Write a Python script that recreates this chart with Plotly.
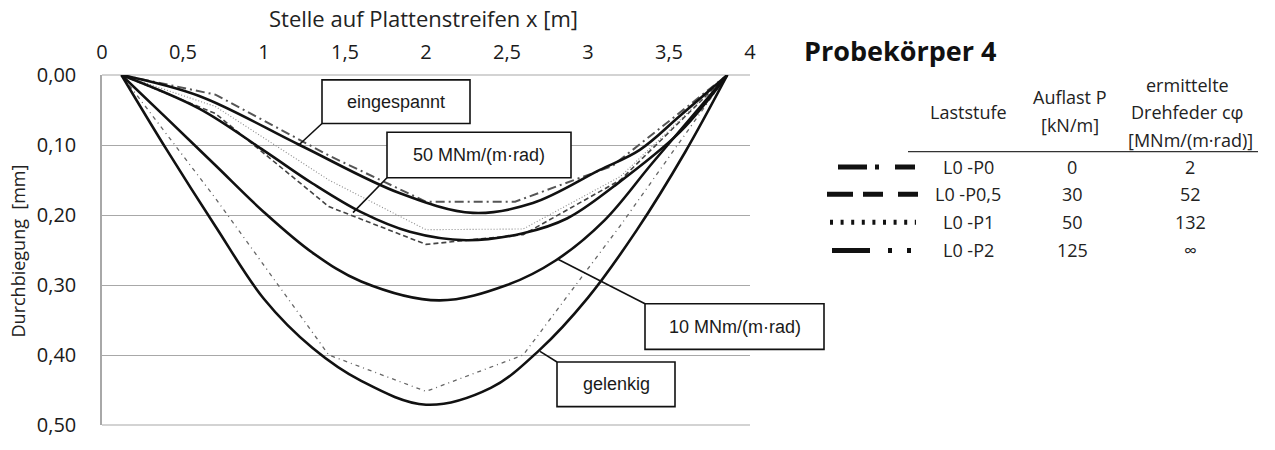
import plotly.graph_objects as go

# --- Theoretical deflection curves (solid) ---
x_gelenkig = [0.12, 0.4, 0.7, 1.0, 1.3, 1.6, 2.0, 2.4, 2.7, 3.0, 3.3, 3.6, 3.86]
y_gelenkig = [0.0, 0.107, 0.216, 0.32, 0.39, 0.437, 0.471, 0.447, 0.393, 0.318, 0.222, 0.11, 0.0]

x_10 = [0.12, 0.4, 0.7, 1.0, 1.3, 1.6, 2.08, 2.5, 2.8, 3.1, 3.4, 3.86]
y_10 = [0.0, 0.062, 0.129, 0.196, 0.254, 0.295, 0.322, 0.30, 0.265, 0.208, 0.125, 0.0]

x_50 = [0.12, 0.6, 1.0, 1.3, 1.6, 1.9, 2.25, 2.6, 2.87, 3.16, 3.57, 3.86]
y_50 = [0.0, 0.048, 0.108, 0.155, 0.196, 0.224, 0.236, 0.226, 0.205, 0.159, 0.081, 0.0]

x_eingespannt = [0.12, 0.6, 1.22, 1.84, 2.29, 2.66, 3.07, 3.32, 3.57, 3.86]
y_eingespannt = [0.0, 0.03, 0.10, 0.169, 0.197, 0.183, 0.136, 0.107, 0.058, 0.0]

# --- Measured deflections per load step ---
x_p0 = [0.12, 0.7, 1.4, 2.0, 2.55, 3.15, 3.86]
y_p0 = [0.0, 0.028, 0.115, 0.181, 0.181, 0.13, 0.0]

x_p05 = [0.12, 0.7, 1.4, 2.0, 2.6, 3.2, 3.86]
y_p05 = [0.0, 0.055, 0.188, 0.242, 0.228, 0.15, 0.0]

x_p1 = [0.12, 0.7, 1.4, 2.0, 2.6, 3.2, 3.86]
y_p1 = [0.0, 0.045, 0.15, 0.221, 0.22, 0.145, 0.0]

x_p2 = [0.12, 0.7, 1.4, 2.0, 2.6, 3.2, 3.86]
y_p2 = [0.0, 0.176, 0.40, 0.452, 0.40, 0.215, 0.0]

# --- Table content ---
laststufen = ["L0 -P0", "L0 -P0,5", "L0 -P1", "L0 -P2"]
auflast = ["0", "30", "50", "125"]
drehfeder = ["2", "52", "132", "\u221e"]

W, H = 1275, 450
L, R, T, B = 102, 750, 75, 436  # plot area in pixels

def px(xp):
    return (xp - L) / (R - L)

def py(yp):
    return (B - yp) / (B - T)

fig = go.Figure()

measured = [
    (x_p0, y_p0, dict(color="#555555", width=2, dash="9px,4px,2px,4px")),
    (x_p05, y_p05, dict(color="#444444", width=1.6, dash="5px,3px")),
    (x_p1, y_p1, dict(color="#8a8a8a", width=1.1, dash="1px,2px")),
    (x_p2, y_p2, dict(color="#666666", width=1.3, dash="4px,4px,1px,4px")),
]
for xs, ys, ln in measured:
    fig.add_trace(go.Scatter(x=xs, y=ys, mode="lines", line=ln,
                             showlegend=False, hoverinfo="skip"))

for xs, ys in [(x_gelenkig, y_gelenkig), (x_10, y_10), (x_50, y_50),
               (x_eingespannt, y_eingespannt)]:
    fig.add_trace(go.Scatter(x=xs, y=ys, mode="lines",
                             line=dict(color="#111111", width=2.6, shape="spline", smoothing=1.0),
                             showlegend=False, hoverinfo="skip"))

shapes = []
annotations = []

# horizontal frame lines at 0,00 and 0,50
for yy in (T, B):
    shapes.append(dict(type="line", xref="paper", yref="paper",
                       x0=0, y0=py(yy), x1=1, y1=py(yy),
                       line=dict(color="#a8a8a8", width=1.2), layer="below"))

# label boxes with leader lines
boxes = [
    ("eingespannt", (322, 80, 470, 125), ((322, 125), (298, 148))),
    ("50 MNm/(m\u00b7rad)", (387, 134, 571, 181), ((387, 181), (353, 217))),
    ("10 MNm/(m\u00b7rad)", (645, 311, 824, 358), ((645, 311), (558, 265))),
    ("gelenkig", (557, 371, 675, 417), ((557, 371), (540, 360))),
]
for text, (x0, y0, x1, y1), ((lx0, ly0), (lx1, ly1)) in boxes:
    shapes.append(dict(type="line", xref="paper", yref="paper",
                       x0=px(lx0), y0=py(ly0), x1=px(lx1), y1=py(ly1),
                       line=dict(color="#111111", width=1.6), layer="above"))
    shapes.append(dict(type="rect", xref="paper", yref="paper",
                       x0=px(x0), y0=py(y0), x1=px(x1), y1=py(y1),
                       line=dict(color="#111111", width=1.6), fillcolor="white", layer="above"))
    annotations.append(dict(text=text, xref="paper", yref="paper",
                            x=px((x0 + x1) / 2), y=py((y0 + y1) / 2),
                            showarrow=False, xanchor="center", yanchor="middle",
                            font=dict(family="Liberation Sans, Arial", size=18, color="#1a1a1a")))

# axis titles
annotations.append(dict(text="Stelle auf Plattenstreifen x [m]", xref="paper", yref="paper",
                        x=px(423), y=py(16), showarrow=False, xanchor="center", yanchor="middle",
                        font=dict(family="Open Sans", size=22, color="#222222")))
annotations.append(dict(text="Durchbiegung  [mm]", xref="paper", yref="paper",
                        x=px(18), y=py(257), showarrow=False, xanchor="center", yanchor="middle",
                        textangle=-90,
                        font=dict(family="Open Sans", size=18, color="#222222")))

# table title
annotations.append(dict(text="<b>Probekörper 4</b>", xref="paper", yref="paper",
                        x=px(802), y=py(50), showarrow=False, xanchor="left", yanchor="middle",
                        font=dict(family="Open Sans", size=27, color="#111111")))

tfont = dict(family="Open Sans", size=18, color="#222222")
headers = [
    ("Laststufe", 968, 113),
    ("Auflast P", 1070, 98),
    ("[kN/m]", 1070, 127),
    ("ermittelte", 1187, 85),
    ("Drehfeder c\u03c6", 1187, 113),
    ("[MNm/(m\u00b7rad)]", 1190, 142),
]
for text, xx, yy in headers:
    annotations.append(dict(text=text, xref="paper", yref="paper", x=px(xx), y=py(yy),
                            showarrow=False, xanchor="center", yanchor="middle", font=tfont))

shapes.append(dict(type="line", xref="paper", yref="paper",
                   x0=px(908), y0=py(154), x1=px(1258), y1=py(154),
                   line=dict(color="#333333", width=1.2)))

row_y = [170, 198, 227, 256]
samples = [
    (838, 915, "29px,8px,4px,16px,22px"),
    (827, 918, "26px,10px,20px,15px,22px"),
    (830, 916, "3px,7.6px"),
    (832, 912, "38px,18px,4px,15px,4px"),
]
for i, yy in enumerate(row_y):
    s0, s1, dash = samples[i]
    shapes.append(dict(type="line", xref="paper", yref="paper",
                       x0=px(s0), y0=py(yy), x1=px(s1), y1=py(yy),
                       line=dict(color="#111111", width=5, dash=dash)))
    for text, xx in [(laststufen[i], 968), (auflast[i], 1072), (drehfeder[i], 1190)]:
        annotations.append(dict(text=text, xref="paper", yref="paper", x=px(xx), y=py(yy),
                                showarrow=False, xanchor="center", yanchor="middle", font=tfont))

fig.update_layout(
    width=W, height=H, autosize=False,
    margin=dict(l=L, r=W - R, t=T, b=H - B, pad=0),
    paper_bgcolor="white", plot_bgcolor="white",
    separators=", ",
    shapes=shapes, annotations=annotations,
    xaxis=dict(range=[0, 4], side="top", tickmode="linear", tick0=0, dtick=0.5,
               showgrid=False, zeroline=False, showline=False, ticks="",
               ticklabelstandoff=11,
               tickfont=dict(family="Open Sans", size=20, color="#1a1a1a")),
    yaxis=dict(range=[0.5, 0], tickmode="linear", tick0=0, dtick=0.1, tickformat=".2f",
               showgrid=True, gridcolor="#a8a8a8", gridwidth=1.2, zeroline=False,
               showline=True, linecolor="#a8a8a8", linewidth=1.5, ticks="",
               ticklabelstandoff=20,
               tickfont=dict(family="Open Sans", size=20, color="#1a1a1a")),
)

fig.write_html("out.html")
